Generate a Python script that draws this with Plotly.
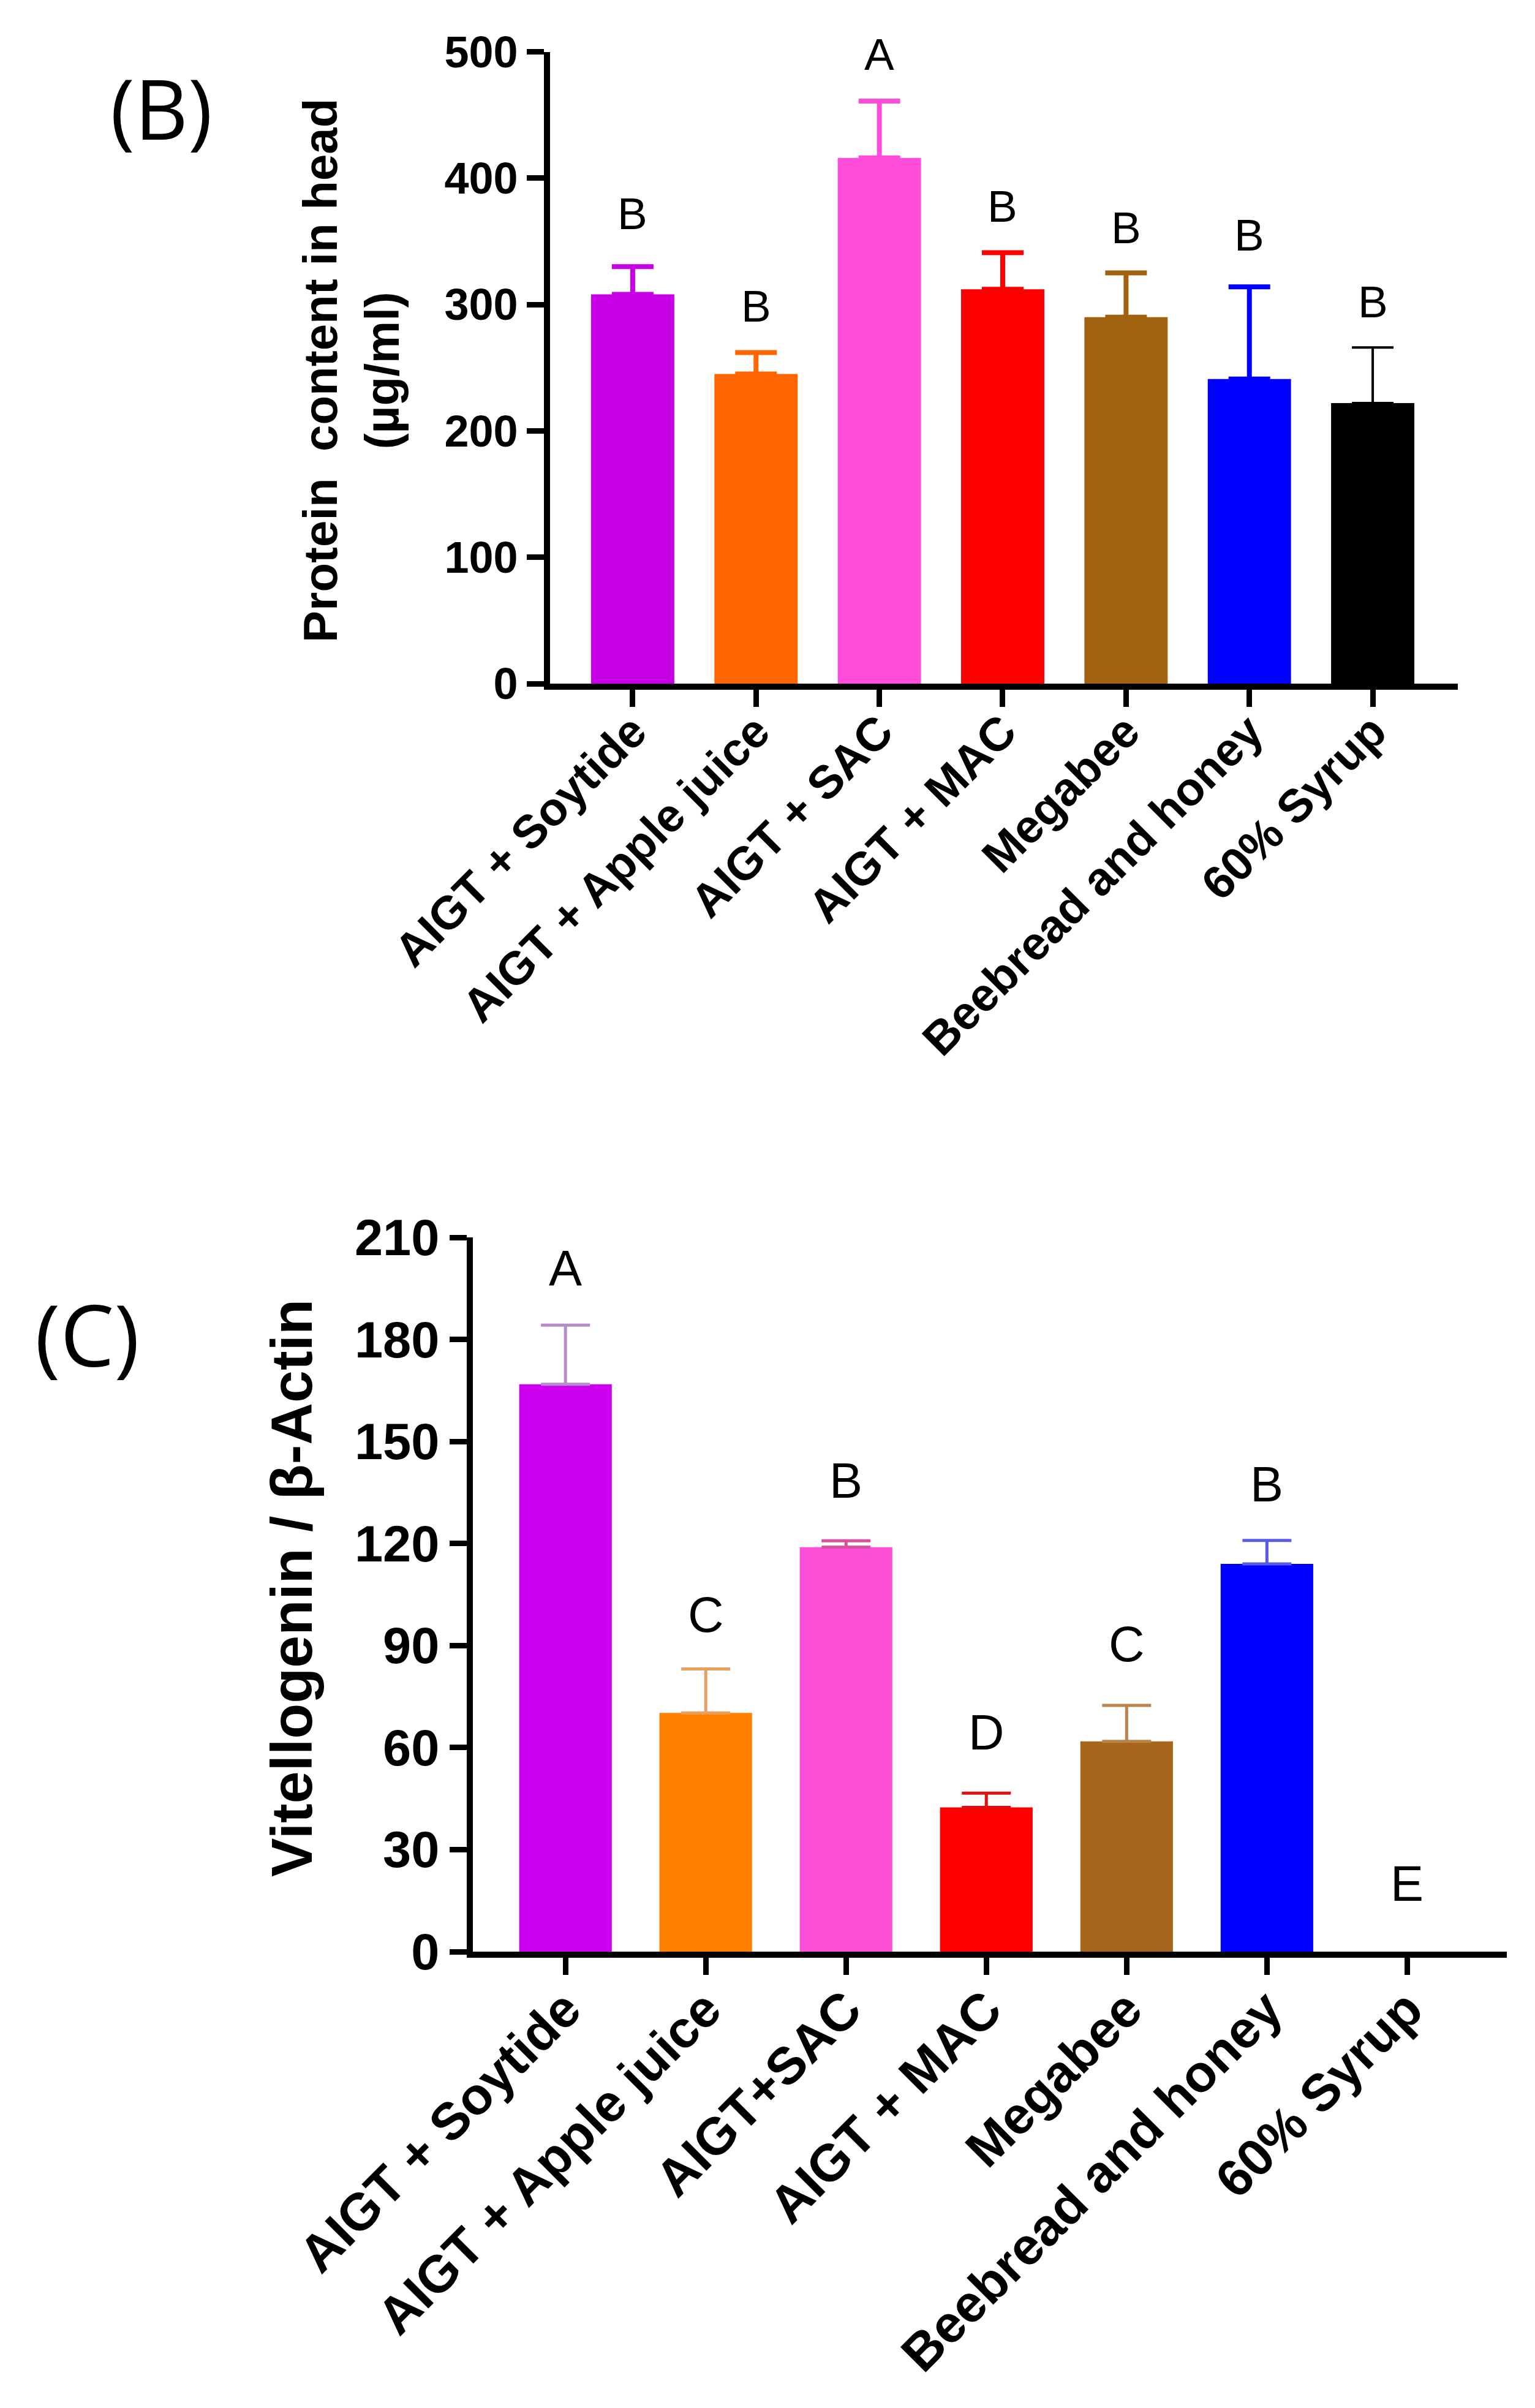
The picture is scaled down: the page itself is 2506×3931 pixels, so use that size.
import plotly.graph_objects as go

# panel B - protein content in head
groups_b = ['AIGT + Soytide', 'AIGT + Apple juice', 'AIGT + SAC', 'AIGT + MAC',
            'Megabee', 'Beebread and honey', '60% Syrup']
protein = [308, 245, 416, 312, 290, 241, 222]
protein_err = [22, 17, 45, 29, 35, 73, 44]
letters_b = ['B', 'B', 'A', 'B', 'B', 'B', 'B']
letters_b_y = [372, 299, 498, 378, 361, 355, 302]
colors_b = ['#C800E6', '#FF6600', '#FF4DD9', '#FF0000', '#A0620F', '#0000FF', '#000000']

# panel C - vitellogenin expression
groups_c = ['AIGT + Soytide', 'AIGT + Apple juice', 'AIGT+SAC', 'AIGT + MAC',
            'Megabee', 'Beebread and honey', '60% Syrup']
vitello = [166.8, 70.2, 118.9, 42.4, 61.8, 114.0, 0]
vitello_err = [17.4, 12.9, 1.9, 4.2, 10.6, 6.9, 0]
letters_c = ['A', 'C', 'B', 'D', 'C', 'B', 'E']
letters_c_y = [201, 99, 138.5, 64.5, 90.5, 137.5, 20]
colors_c = ['#CC00EE', '#FF8000', '#FF4FD8', '#FF0000', '#A5651A', '#0000FF', '#000000']
err_colors_c = ['#B78CCB', '#E8A060', '#D8509E', '#E01010', '#B8844A', '#5A5AE8', '#000000']

FONT = 'Liberation Sans, Arial'
W, H = 2506, 3931

fig = go.Figure()

for i in range(len(groups_b)):
    fig.add_trace(go.Bar(x=[groups_b[i]], y=[protein[i]], width=0.675,
                         marker=dict(color=colors_b[i], line_width=0),
                         error_y=dict(type='data', symmetric=False,
                                      array=[protein_err[i]], arrayminus=[0],
                                      color=colors_b[i],
                                      thickness=4 if i == 6 else 8, width=34),
                         xaxis='x', yaxis='y', showlegend=False))

for i in range(len(groups_c)):
    fig.add_trace(go.Bar(x=[groups_c[i]], y=[vitello[i]], width=0.66,
                         marker=dict(color=colors_c[i], line_width=0),
                         error_y=dict(type='data', symmetric=False,
                                      array=[vitello_err[i]], arrayminus=[0],
                                      color=err_colors_c[i], thickness=5, width=40,
                                      visible=vitello_err[i] > 0),
                         xaxis='x2', yaxis='y2', showlegend=False))

axis_common = dict(showline=True, linecolor='black', linewidth=10,
                   ticks='outside', ticklen=28, tickwidth=9, tickcolor='black',
                   showgrid=False, zeroline=False, automargin=False)

fig.update_layout(
    template='none',
    width=W, height=H,
    margin=dict(l=0, r=0, t=0, b=0, pad=0),
    paper_bgcolor='white', plot_bgcolor='white',
    font=dict(family=FONT, color='black'),
    xaxis=dict(domain=[890 / W, 2372 / W], anchor='y', type='category',
               range=[-0.67, 6.69], tickangle=-45, ticklabelstandoff=-35,
               tickfont=dict(size=76, weight='bold'), **axis_common),
    yaxis=dict(domain=[1 - 1108 / H, 1 - 76.5 / H], anchor='x',
               range=[0, 500], dtick=100,
               tickfont=dict(size=72, weight='bold'), **axis_common),
    xaxis2=dict(domain=[764 / W, 2452 / W], anchor='y2', type='category',
                range=[-0.66, 6.71], tickangle=-45, ticklabelstandoff=-28,
                tickfont=dict(size=85, weight='bold'), **axis_common),
    yaxis2=dict(domain=[1 - 3178 / H, 1 - 2012 / H], anchor='x2',
                range=[0, 210], dtick=30,
                tickfont=dict(size=83, weight='bold'), **axis_common),
)

for g, t, yy in zip(groups_b, letters_b, letters_b_y):
    fig.add_annotation(x=g, y=yy, xref='x', yref='y', text=t, showarrow=False,
                       xanchor='center', yanchor='middle',
                       font=dict(size=73, family=FONT))
for g, t, yy in zip(groups_c, letters_c, letters_c_y):
    fig.add_annotation(x=g, y=yy, xref='x2', yref='y2', text=t, showarrow=False,
                       xanchor='center', yanchor='middle',
                       font=dict(size=81, family=FONT))

# axis titles
fig.add_annotation(x=565 / W, y=1 - 597 / H, xref='paper', yref='paper',
                   xanchor='center', yanchor='middle',
                   text='Protein\u00a0 content in head<br>(µg/ml)', textangle=-90,
                   showarrow=False, font=dict(size=78, family=FONT, weight='bold'))
fig.add_annotation(x=468 / W, y=1 - 2585 / H, xref='paper', yref='paper',
                   xanchor='center', yanchor='middle',
                   text='Vitellogenin / β-Actin', textangle=-90,
                   showarrow=False, font=dict(size=95, family=FONT, weight='bold'))

# panel letters
fig.add_annotation(x=255 / W, y=1 - 168 / H, xref='paper', yref='paper',
                   xanchor='center', yanchor='middle',
                   text='(B)', showarrow=False, font=dict(size=135, family='Open Sans'))
fig.add_annotation(x=134 / W, y=1 - 2168 / H, xref='paper', yref='paper',
                   xanchor='center', yanchor='middle',
                   text='(C)', showarrow=False, font=dict(size=140, family='Open Sans'))

fig.write_html("out.html")
